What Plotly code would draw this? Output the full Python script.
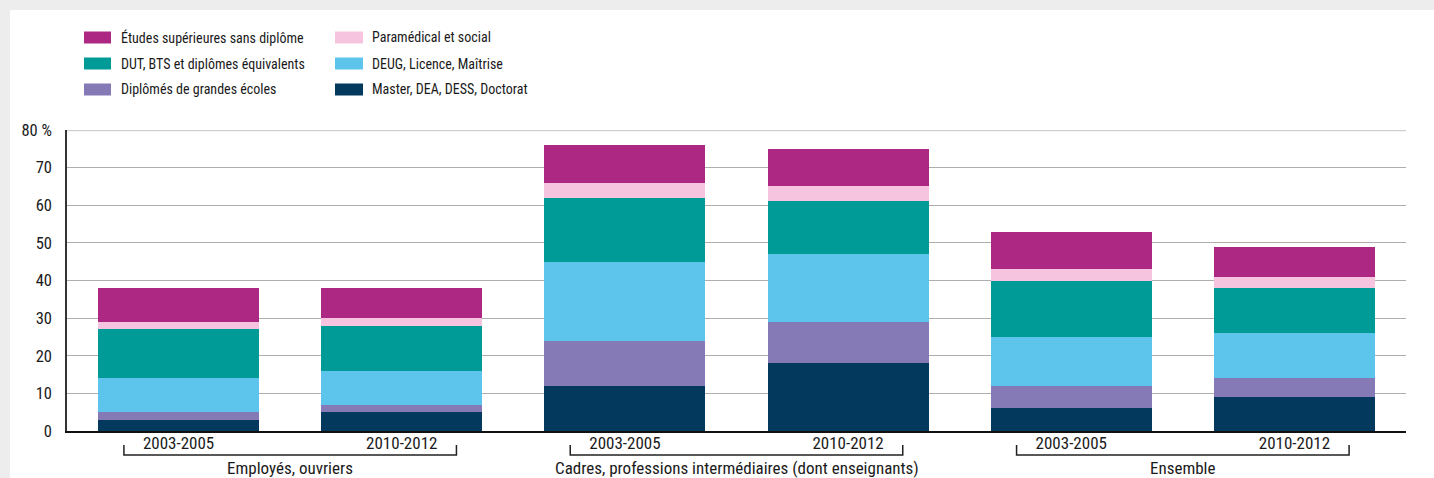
import plotly.graph_objects as go

groups = ["Employés, ouvriers",
          "Cadres, professions intermédiaires (dont enseignants)",
          "Ensemble"]
periods = ["2003-2005", "2010-2012"]

# series (bottom to top), one value per bar: G1P1, G1P2, G2P1, G2P2, G3P1, G3P2
master = [3, 5, 12, 18, 6, 9]
grandes_ecoles = [2, 2, 12, 11, 6, 5]
deug = [9, 9, 21, 18, 13, 12]
dut = [13, 12, 17, 14, 15, 12]
paramedical = [2, 2, 4, 4, 3, 3]
etudes_sans_diplome = [9, 8, 10, 10, 10, 8]

series = [
    ("Master, DEA, DESS, Doctorat", master, "#02395d"),
    ("Diplômés de grandes écoles", grandes_ecoles, "#857ab6"),
    ("DEUG, Licence, Maîtrise", deug, "#5dc4ec"),
    ("DUT, BTS et diplômes équivalents", dut, "#009b96"),
    ("Paramédical et social", paramedical, "#f6c4de"),
    ("Études supérieures sans diplôme", etudes_sans_diplome, "#ad2882"),
]

y_ticks = [0, 10, 20, 30, 40, 50, 60, 70, 80]
y_ticktext = ["0", "10", "20", "30", "40", "50", "60", "70", "80 %"]

FONT = "Roboto Condensed, Liberation Sans Narrow, Arial Narrow, sans-serif"
TXT = "#1a1a1a"
W, H = 1434, 478
ML, MR, MT, MB = 67, 28, 130, 47
PW = W - ML - MR
PH = H - MT - MB

def px2x(px):
    return (px - ML) / PW

def px2y(py):
    return (H - MB - py) / PH

n_bars = len(groups) * len(periods)
xpos = list(range(n_bars))
tick_labels = [p for g in groups for p in periods]

fig = go.Figure()
for name, vals, col in series:
    fig.add_trace(go.Bar(x=xpos, y=vals, name=name, marker=dict(color=col, line=dict(width=0)),
                         showlegend=False, hovertemplate=name + ": %{y}<extra></extra>"))

shapes = []
annotations = []
# white panel on grey page
shapes.append(dict(type="rect", xref="paper", yref="paper", x0=px2x(10), x1=px2x(W + 5),
                   y0=px2y(H + 5), y1=px2y(10), fillcolor="white", line=dict(width=0), layer="below"))
# top light line at 80
shapes.append(dict(type="line", xref="paper", yref="y", x0=0, x1=1, y0=80, y1=80,
                   line=dict(color="#cfcfcf", width=2.5), layer="above"))

# group brackets and labels
for gi, g in enumerate(groups):
    c = gi * len(periods) + (len(periods) - 1) / 2
    x0, x1 = c - 0.745, c + 0.745
    yb, yt = px2y(455), px2y(445)
    shapes.append(dict(type="path", xref="x", yref="paper",
                       path=f"M {x0},{yt} L {x0},{yb} L {x1},{yb} L {x1},{yt}",
                       line=dict(color="#222222", width=1.5)))
    annotations.append(dict(x=c, xref="x", y=px2y(468), yref="paper", text=g, showarrow=False,
                            font=dict(family=FONT, size=17, color=TXT),
                            xanchor="center", yanchor="middle"))

# custom legend (two columns)
legend_cols = [
    ["Études supérieures sans diplôme", "DUT, BTS et diplômes équivalents", "Diplômés de grandes écoles"],
    ["Paramédical et social", "DEUG, Licence, Maîtrise", "Master, DEA, DESS, Doctorat"],
]
colors = {n: c for n, _, c in series}
col_sw_x = [(84, 111), (335, 363)]
col_tx_x = [119, 370]
row_y = [37.5, 63.5, 89.5]
for ci, names in enumerate(legend_cols):
    for ri, nm in enumerate(names):
        yc = row_y[ri]
        shapes.append(dict(type="rect", xref="paper", yref="paper",
                           x0=px2x(col_sw_x[ci][0]), x1=px2x(col_sw_x[ci][1]),
                           y0=px2y(yc + 6), y1=px2y(yc - 6),
                           fillcolor=colors[nm], line=dict(width=0)))
        annotations.append(dict(x=px2x(col_tx_x[ci]), xref="paper", y=px2y(yc), yref="paper",
                                text=nm, showarrow=False, xanchor="left", yanchor="middle",
                                font=dict(family=FONT, size=14, color=TXT)))

fig.update_layout(
    width=W, height=H,
    margin=dict(l=ML, r=MR, t=MT, b=MB, pad=0),
    paper_bgcolor="#ededed",
    plot_bgcolor="white",
    barmode="stack",
    bargap=0.278,
    font=dict(family=FONT, size=17, color=TXT),
    shapes=shapes,
    annotations=annotations,
    showlegend=False,
)
fig.update_xaxes(range=[-0.5, n_bars - 0.5], tickvals=xpos, ticktext=tick_labels,
                 showgrid=False, showline=True, linecolor="#111111", linewidth=2,
                 ticks="", ticklabelstandoff=-4, tickfont=dict(family=FONT, size=17, color=TXT),
                 zeroline=False, fixedrange=True)
fig.update_yaxes(range=[0, 80], tickvals=y_ticks, ticktext=y_ticktext,
                 showgrid=True, gridcolor="#aeaeae", gridwidth=1.2,
                 showline=True, linecolor="#333333", linewidth=1.5,
                 ticks="", ticklabelstandoff=10, zeroline=False, fixedrange=True,
                 tickfont=dict(family=FONT, size=16.5, color=TXT))

fig.write_html("out.html", config={"displayModeBar": False},
               post_script="document.body.style.margin='0';document.body.style.background='#ededed';")
